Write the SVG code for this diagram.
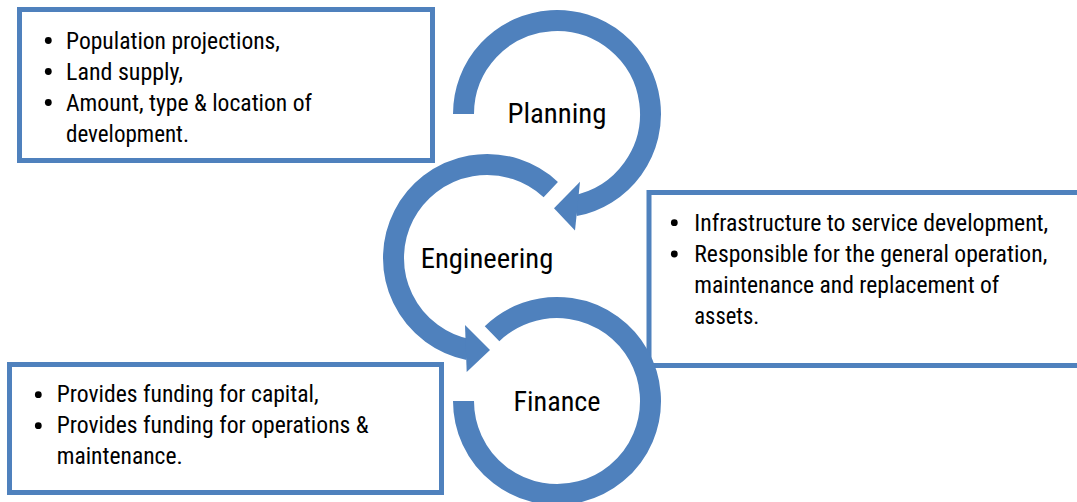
<svg xmlns="http://www.w3.org/2000/svg" width="1077" height="502" viewBox="0 0 1077 502">
<style>
.box{fill:#ffffff;stroke:#4F81BD;stroke-width:5}
.ring{fill:none;stroke:#4F81BD;stroke-width:21;stroke-linecap:butt}
.head{fill:#4F81BD;stroke:none}
.bul{fill:#000000}
.t{font-family:"Roboto Condensed","Roboto","Liberation Sans",sans-serif;font-size:23px;fill:#000000}
.lbl{font-family:"Roboto Condensed","Roboto","Liberation Sans",sans-serif;font-size:28px;fill:#000000}
</style>
<rect width="1077" height="502" fill="#ffffff"/>

<g id="box-planning">
<rect class="box" x="19.5" y="9.5" width="413" height="151"/>
<circle class="bul" cx="48.3" cy="40.5" r="3.4"/>
<circle class="bul" cx="48.3" cy="71.5" r="3.4"/>
<circle class="bul" cx="48.3" cy="102.5" r="3.4"/>
<text class="t" x="66" y="48.5" textLength="214" lengthAdjust="spacingAndGlyphs">Population projections,</text>
<text class="t" x="66" y="79.5" textLength="117" lengthAdjust="spacingAndGlyphs">Land supply,</text>
<text class="t" x="66" y="110.5" textLength="246" lengthAdjust="spacingAndGlyphs">Amount, type &amp; location of</text>
<text class="t" x="66" y="141.5" textLength="123" lengthAdjust="spacingAndGlyphs">development.</text>
</g>

<g id="box-engineering">
<rect class="box" x="649" y="192.5" width="445" height="173"/>
<circle class="bul" cx="674.3" cy="222.7" r="3.4"/>
<circle class="bul" cx="674.3" cy="254" r="3.4"/>
<text class="t" x="694.3" y="230.7" textLength="354" lengthAdjust="spacingAndGlyphs">Infrastructure to service development,</text>
<text class="t" x="694.3" y="261.7" textLength="353" lengthAdjust="spacingAndGlyphs">Responsible for the general operation,</text>
<text class="t" x="694.3" y="292.7" textLength="305" lengthAdjust="spacingAndGlyphs">maintenance and replacement of</text>
<text class="t" x="694.3" y="323.5" textLength="65" lengthAdjust="spacingAndGlyphs">assets.</text>
</g>

<g id="box-finance">
<rect class="box" x="9.5" y="364.5" width="432" height="128"/>
<circle class="bul" cx="38.3" cy="394.7" r="3.4"/>
<circle class="bul" cx="38.3" cy="425.7" r="3.4"/>
<text class="t" x="56.7" y="401.7" textLength="262" lengthAdjust="spacingAndGlyphs">Provides funding for capital,</text>
<text class="t" x="56.7" y="432.7" textLength="312" lengthAdjust="spacingAndGlyphs">Provides funding for operations &amp;</text>
<text class="t" x="56.7" y="464" textLength="126" lengthAdjust="spacingAndGlyphs">maintenance.</text>
</g>

<g id="connectors">
<path class="ring" d="M463.5,114 A93.5,93.5 0 1 1 574.84,205.78"/>
<polygon class="head" points="580,181.7 554,208.3 575,230.5"/>
<path class="ring" d="M550.77,189.62 A93.5,93.5 0 1 0 468.52,349.66"/>
<polygon class="head" points="465,325 490,350 466.7,372"/>
<path class="ring" d="M463.5,401 A93.5,93.5 0 1 0 492.05,333.74"/>
</g>

<g id="planning">
<text class="lbl" x="557" y="123.3" text-anchor="middle" textLength="99" lengthAdjust="spacingAndGlyphs">Planning</text>
</g>
<g id="engineering">
<text class="lbl" x="487" y="268.3" text-anchor="middle" textLength="132.6" lengthAdjust="spacingAndGlyphs">Engineering</text>
</g>
<g id="finance">
<text class="lbl" x="557" y="410.7" text-anchor="middle" textLength="87" lengthAdjust="spacingAndGlyphs">Finance</text>
</g>
</svg>
